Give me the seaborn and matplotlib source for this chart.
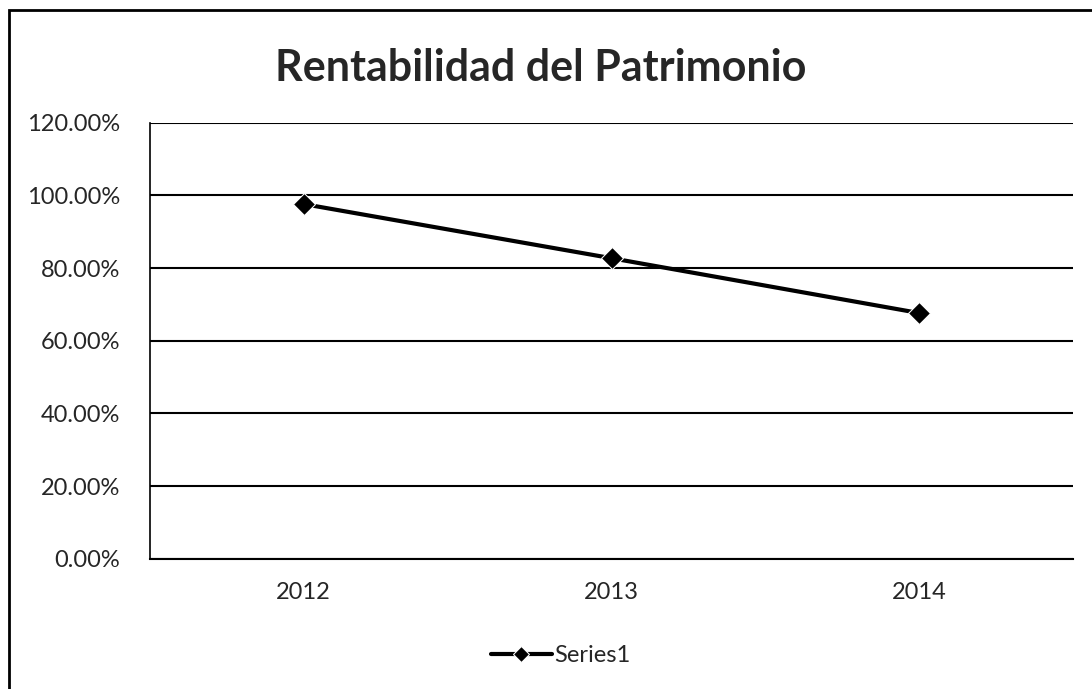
import matplotlib
matplotlib.use('Agg')
import matplotlib.pyplot as plt
import seaborn as sns
import pandas as pd
from matplotlib.ticker import PercentFormatter
from matplotlib.patches import Rectangle

# chart values
years = ['2012', '2013', '2014']
roe = [97.6, 82.7, 67.6]
y_ticks = [0, 20, 40, 60, 80, 100, 120]

df = pd.DataFrame({'Year': years, 'ROE': roe})

sns.set_style('white')
plt.rcParams['font.family'] = ['Lato', 'DejaVu Sans']

fig = plt.figure(figsize=(10.92, 6.89), dpi=100)
ax = fig.add_axes([0.137, 0.189, 0.846, 0.633])

sns.lineplot(data=df, x='Year', y='ROE', ax=ax, color='black', linewidth=3,
             marker='D', markersize=11, label='Series1', sort=False)

ax.set_xlim(-0.5, 2.5)
ax.set_ylim(0, 120)
ax.set_yticks(y_ticks)
ax.yaxis.set_major_formatter(PercentFormatter(decimals=2))
ax.grid(axis='y', color='black', linewidth=1.5)
ax.set_axisbelow(True)
ax.set_xlabel('')
ax.set_ylabel('')
ax.tick_params(axis='both', labelsize=17, length=0)
ax.tick_params(axis='x', pad=17)
ax.tick_params(axis='y', pad=21)
for side in ['top', 'right']:
    ax.spines[side].set_visible(False)
ax.spines['left'].set_color('black')
ax.spines['bottom'].set_color('black')
ax.spines['left'].set_linewidth(1.2)
ax.spines['bottom'].set_linewidth(1.5)

fig.suptitle('Rentabilidad del Patrimonio', fontsize=31, fontweight='bold', x=0.495, y=0.93)

leg = ax.legend(loc='upper center', bbox_to_anchor=(0.445, -0.15), frameon=False,
                fontsize=17, handlelength=2.6, handletextpad=0.1, markerscale=0.7)

# outer chart border
fig.patches.append(Rectangle((0.008, -0.1), 1.2, 1.086, transform=fig.transFigure,
                             fill=False, edgecolor='black', linewidth=2))

fig.savefig('out.png', dpi=100)
